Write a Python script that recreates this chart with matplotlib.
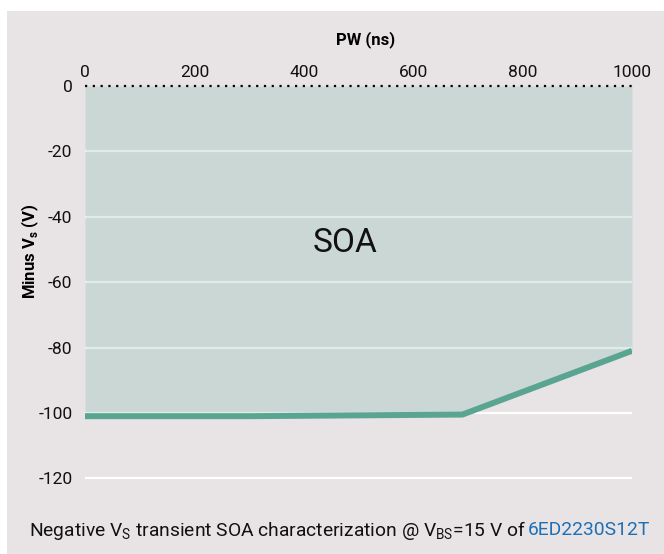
import matplotlib.pyplot as plt
import matplotlib.patches as mpatches

plt.rcParams['font.family'] = ['Roboto', 'DejaVu Sans']
plt.rcParams['axes.unicode_minus'] = False

# SOA boundary: pulse width (ns) vs minus Vs (V)
pw_ns = [0, 300, 690, 1000]
minus_vs = [-101, -101, -100.5, -81]

x_ticks = [0, 200, 400, 600, 800, 1000]
y_ticks = [0, -20, -40, -60, -80, -100, -120]

line_color = '#5aa591'
bg_color = '#e8e4e5'

fig = plt.figure(figsize=(6.64, 5.54), dpi=100)
fig.patch.set_facecolor('white')
# grey panel behind the chart
fig.patches.append(mpatches.Rectangle((7 / 664, 0), 1, 1 - 11 / 554,
                                      transform=fig.transFigure,
                                      facecolor=bg_color, edgecolor='none', zorder=-10))

ax = fig.add_axes([85 / 664, 1 - 511 / 554, (632 - 85) / 664, (511 - 86) / 554])
ax.set_zorder(5)
ax.set_facecolor('none')
ax.set_xlim(0, 1000)
ax.set_ylim(-130, 0)

for s in ax.spines.values():
    s.set_visible(False)

for yv in y_ticks[1:]:
    ax.axhline(yv, color='white', lw=1.6, zorder=1)
ax.plot([0, 1000], [0, 0], color='black', lw=1.6, ls=(0, (1, 2.5)), zorder=3,
        clip_on=False)

ax.fill_between(pw_ns, minus_vs, 0, color=line_color, alpha=0.2, lw=0, zorder=2)
ax.plot(pw_ns, minus_vs, color=line_color, lw=4.3, solid_capstyle='butt', zorder=4)

ax.text(475, -48, 'SOA', fontsize=24, ha='center', va='center', color='#111111')

ax.xaxis.tick_top()
ax.set_xticks(x_ticks)
ax.set_yticks(y_ticks)
ax.tick_params(length=0, labelsize=12.5, colors='#111111')
ax.tick_params(axis='x', pad=4)
ax.tick_params(axis='y', pad=9)

fig.text(366 / 664, 1 - 40 / 554, 'PW (ns)', fontsize=12, fontweight='bold',
         ha='center', va='center')
fig.text(30 / 664, 1 - 251 / 554, r'Minus V$_\mathregular{s}$ (V)', rotation=90,
         fontsize=12, fontweight='bold', ha='center', va='center')

cap_y = 1 - 530 / 554
fig.text(526 / 664, cap_y,
         r'Negative V$_\mathregular{S}$ transient SOA characterization @ V$_\mathregular{BS}$=15 V of',
         fontsize=13.9, ha='right', va='center', color='#111111')
fig.text(528 / 664, cap_y, '6ED2230S12T', fontsize=13.9, ha='left', va='center',
         color='#1f6fb5')

fig.savefig('out.png', dpi=100)
